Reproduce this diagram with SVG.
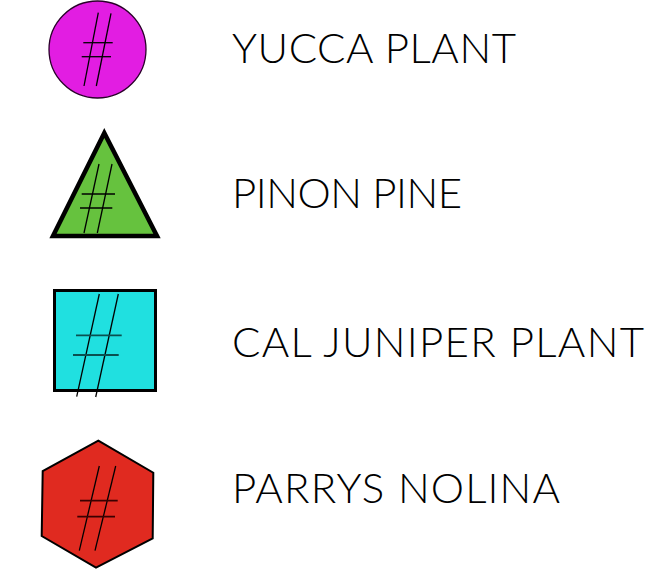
<svg xmlns="http://www.w3.org/2000/svg" width="648" height="577" viewBox="0 0 648 577">
<style>
.lbl{font-family:"Lato","DejaVu Sans",sans-serif;font-size:42px;font-weight:300;fill:#000;}
.hash{stroke:#000;stroke-width:1.3;fill:none;stroke-linecap:butt;}
</style>
<rect width="648" height="577" fill="#fff"/>
<g id="yucca">
<circle cx="97.5" cy="49.5" r="48.5" fill="#e21de2" stroke="#2a002a" stroke-width="1.3"/>
<g class="hash">
<line x1="98.3" y1="12.7" x2="84" y2="86"/>
<line x1="111" y1="13.3" x2="96.3" y2="86"/>
<line x1="83.3" y1="42.7" x2="112.7" y2="42.7"/>
<line x1="81.7" y1="56.7" x2="111" y2="56.7"/>
</g>
<text class="lbl" x="232" y="63" textLength="284" lengthAdjust="spacing">YUCCA PLANT</text>
</g>
<g id="pinon">
<polygon points="104.3,133 53,236 157,236" fill="#66c23e" stroke="#000" stroke-width="4.5" stroke-linejoin="miter"/>
<g class="hash">
<line x1="99" y1="164" x2="84" y2="233"/>
<line x1="112" y1="164" x2="97.3" y2="233"/>
<line x1="81.7" y1="194" x2="115" y2="194"/>
<line x1="80" y1="208" x2="112.3" y2="208"/>
</g>
<text class="lbl" x="232" y="208" textLength="230" lengthAdjust="spacing">PINON PINE</text>
</g>
<g id="juniper">
<rect x="54.5" y="290.5" width="101" height="100" fill="#20e0e0" stroke="#000" stroke-width="3"/>
<g class="hash">
<line x1="99.3" y1="294" x2="76.7" y2="396.7"/>
<line x1="118.3" y1="294" x2="95.7" y2="397"/>
<line x1="76" y1="335.3" x2="121.7" y2="335.3" stroke="#0a5050" stroke-width="1.8"/>
<line x1="73" y1="355" x2="118.7" y2="355" stroke="#0a5050" stroke-width="1.8"/>
</g>
<text class="lbl" x="232" y="357" textLength="412" lengthAdjust="spacing">CAL JUNIPER PLANT</text>
</g>
<g id="nolina">
<polygon points="98.3,440.7 153.3,472.7 152.7,538.3 96,567.7 41.7,536 42.7,471" fill="#e02a20" stroke="#000" stroke-width="2"/>
<g class="hash">
<line x1="99.3" y1="466" x2="79.3" y2="550.7"/>
<line x1="115.7" y1="466" x2="95" y2="550.7"/>
<line x1="80" y1="500.7" x2="117.7" y2="500.7" stroke="#3a0000" stroke-width="1.8"/>
<line x1="77.3" y1="516.7" x2="115" y2="516.7" stroke="#3a0000" stroke-width="1.8"/>
</g>
<text class="lbl" x="232" y="503" textLength="328" lengthAdjust="spacing">PARRYS NOLINA</text>
</g>
<g id="connectors"></g>
</svg>
